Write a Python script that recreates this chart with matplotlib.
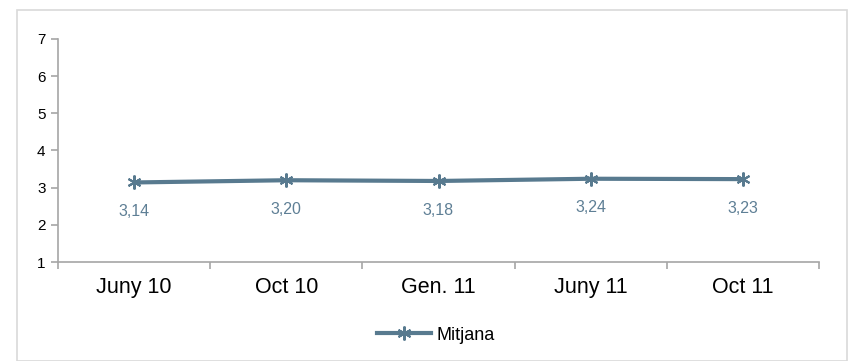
import matplotlib
matplotlib.use("Agg")
import matplotlib.pyplot as plt
from matplotlib.patches import Rectangle

categories = ["Juny 10", "Oct 10", "Gen. 11", "Juny 11", "Oct 11"]
values = [3.14, 3.20, 3.18, 3.24, 3.23]
series_name = "Mitjana"

plt.rcParams['font.family'] = ['Liberation Sans', 'DejaVu Sans']
W, H = 851, 361
fig = plt.figure(figsize=(W/100, H/100), dpi=100)
fig.add_artist(Rectangle((17/W, 0), 830/W, 1 - 10/H, transform=fig.transFigure,
                         fill=False, edgecolor='#D9D9D9', linewidth=1.2))
ax = fig.add_axes([58/W, 1 - 262/H, (819-58)/W, (262-39)/H])

color = '#587A8F'
x = list(range(len(categories)))
ax.plot(x, values, color=color, linewidth=3, marker=(6, 2, 0), markersize=10,
        markeredgewidth=1.5, markeredgecolor=color, label=series_name)
for xi, v in zip(x, values):
    ax.annotate(f"{v:.2f}".replace('.', ','), (xi, v), xytext=(0, -21),
                textcoords='offset points', ha='center', va='center',
                fontsize=11.5, color='#5E7F95')

ax.set_xlim(-0.5, len(categories) - 0.5)
ax.set_ylim(1, 7)
ax.set_yticks(range(1, 8))
ax.set_xticks(x)
ax.set_xticklabels(categories, fontsize=15.5)
ax.set_xticks([i - 0.5 for i in range(len(categories) + 1)], minor=True)
ax.tick_params(axis='x', which='major', length=0, pad=11)
ax.tick_params(axis='x', which='minor', length=5, color='#A6A6A6', width=1.2)
ax.tick_params(axis='y', length=5, color='#A6A6A6', width=1.2, labelsize=11, pad=4)
for s in ['top', 'right']:
    ax.spines[s].set_visible(False)
for s in ['left', 'bottom']:
    ax.spines[s].set_color('#A6A6A6')
    ax.spines[s].set_linewidth(1.2)

fig.legend(loc='center', bbox_to_anchor=(436/W, 1 - 335/H), frameon=False,
           fontsize=13, handlelength=3.0, handletextpad=0.3)

fig.savefig("out.png", dpi=100)
